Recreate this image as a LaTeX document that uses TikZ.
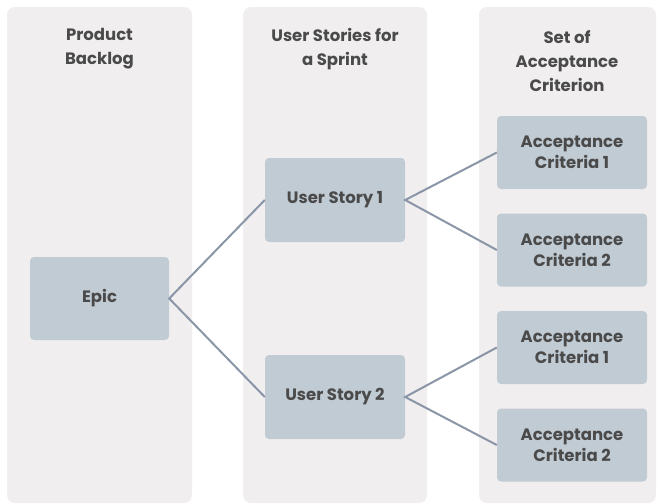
\documentclass[tikz,border=0pt]{standalone}
\usepackage{fontspec}
\setmainfont{Poppins}
\definecolor{colbg}{HTML}{F0EEEF}
\definecolor{boxfill}{HTML}{C1CBD3}
\definecolor{linec}{HTML}{8A96A8}
\definecolor{txt}{HTML}{4A4A4A}
\begin{document}
\begin{tikzpicture}[x=1pt,y=-1pt,
  column/.style={fill=colbg, rounded corners=8pt},
  card/.style={fill=boxfill, rounded corners=4pt, text=txt, font=\fontsize{16.5}{21}\selectfont\bfseries, align=center, inner sep=0pt},
  head/.style={text=txt, font=\fontsize{16.5}{24}\selectfont\bfseries, align=center},
  link/.style={draw=linec, line width=2pt}]
\useasboundingbox (0,0) rectangle (657,504);
\fill[column] (7,7) rectangle (192,503);
\fill[column] (243,7) rectangle (427,503);
\fill[column] (479,7) rectangle (656,503);
\node[head] (h1) at (99.5,49) {Product\\Backlog};
\node[head] (h2) at (335,49) {User Stories for\\a Sprint};
\node[head] (h3) at (567,61) {Set of\\Acceptance\\Criterion};
\node[card, minimum width=139pt, minimum height=83pt] (epic) at (99.5,298.5) {Epic};
\node[card, minimum width=140pt, minimum height=84pt] (us1) at (335,200) {User Story 1};
\node[card, minimum width=140pt, minimum height=84pt] (us2) at (335,397) {User Story 2};
\node[card, minimum width=150pt, minimum height=73pt] (ac1) at (572,152.5) {Acceptance\\Criteria 1};
\node[card, minimum width=150pt, minimum height=73pt] (ac2) at (572,250) {Acceptance\\Criteria 2};
\node[card, minimum width=150pt, minimum height=73pt] (ac3) at (572,347.5) {Acceptance\\Criteria 1};
\node[card, minimum width=150pt, minimum height=73pt] (ac4) at (572,445) {Acceptance\\Criteria 2};
\draw[link] (us1.west) -- (epic.east) -- (us2.west);
\draw[link] (ac1.west) -- (us1.east) -- (ac2.west);
\draw[link] (ac3.west) -- (us2.east) -- (ac4.west);
\end{tikzpicture}
\end{document}
